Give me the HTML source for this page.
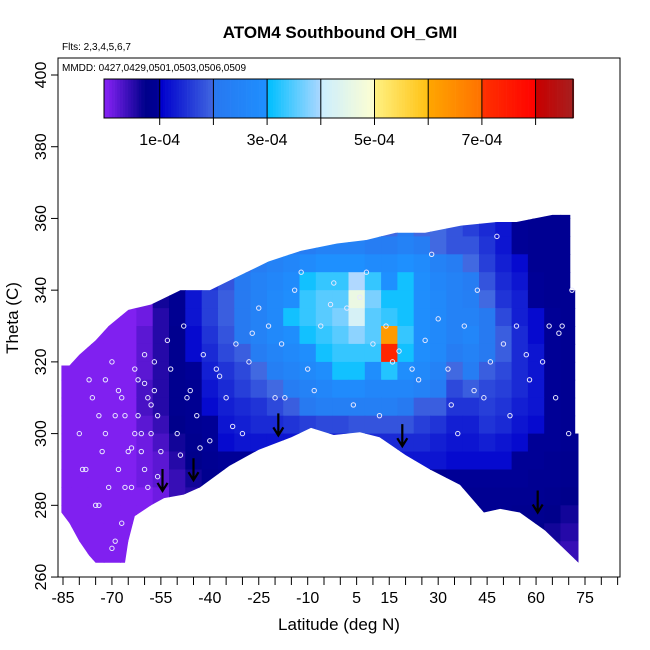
<!DOCTYPE html>
<html><head><meta charset="utf-8">
<style>
html,body{margin:0;padding:0;background:#fff;}
svg{display:block;font-family:"Liberation Sans",sans-serif;}
</style></head>
<body>
<svg id="chart" width="650" height="650" viewBox="0 0 650 650">
<text x="340" y="38" text-anchor="middle" font-size="17" font-weight="bold">ATOM4 Southbound OH_GMI</text>
<text x="62" y="50" font-size="10">Flts: 2,3,4,5,6,7</text>
<defs><clipPath id="dataClip"><path id="clipPath" d=""/></clipPath></defs>
<g id="cells" clip-path="url(#dataClip)"></g>
<g id="points"></g>
<g id="arrows"></g>
<rect x="58" y="58" width="562" height="519" fill="none" stroke="#000" stroke-width="1"/>
<text x="62" y="71" font-size="10">MMDD: 0427,0429,0501,0503,0506,0509</text>
<g id="colorbar"></g>
<g id="xaxis"></g>
<g id="yaxis"></g>
<text x="339" y="630" text-anchor="middle" font-size="17">Latitude (deg N)</text>
<text transform="translate(18,318) rotate(-90)" text-anchor="middle" font-size="17">Theta (C)</text>
</svg>
<script>
// ---- data ----
const latCenters = [-85,-80,-75,-70,-65,-60,-55,-50,-45,-40,-35,-30,-25,-20,-15,-10,-5,0,5,10,15,20,25,30,35,40,45,50,55,60,65,70,75];
const thetaBands = [360,355,350,345,340,335,330,325,320,315,310,305,300,295,290,285,280,275,270,265,260];
// OH values in units of 1e-5 (10 = 1e-4), rows follow thetaBands (band lower edge)
const ohGrid = [
[0,0,0,0,0,0,6,8,10,14,18,20,20,20,20,20,20,20,20,20,20,20,20,20,18,16,14,12,10,9,9,9,9],
[0,0,0,0,0,0,6,8,10,14,18,20,20,20,20,22,22,22,22,20,20,22,20,20,18,16,14,12,10,9,9,9,9],
[0,0,0,0,0,0,6,8,10,14,18,20,20,22,22,22,24,24,24,22,22,24,22,20,18,18,15,12,10,9,9,9,9],
[0,0,0,0,0,0,6,8,10,14,18,20,22,24,26,28,30,30,30,28,28,30,28,24,22,20,16,13,11,9,9,9,9],
[0,0,0,0,0,1,6,9,11,15,18,21,24,26,28,31,33,33,40,33,30,31,29,26,24,22,18,14,12,10,9,9,9],
[0,0,0,0,0,1,6,9,12,16,19,21,24,27,29,33,35,35,46,37,31,31,29,27,24,23,20,15,13,10,9,9,9],
[0,0,0,0,0,1,5,9,12,16,19,21,24,27,31,33,35,37,42,35,33,31,29,27,24,24,21,17,13,11,10,9,9],
[0,0,0,0,0,2,5,8,11,15,18,21,24,27,29,31,33,35,38,35,62,33,29,27,24,26,21,19,14,11,10,9,9],
[0,0,0,0,0,2,5,8,11,14,17,19,22,25,27,29,31,33,33,33,72,31,29,27,22,24,21,19,14,12,10,9,9],
[0,0,0,0,0,2,5,8,10,13,15,17,20,23,25,27,29,31,31,29,32,29,27,24,20,22,19,17,14,12,10,9,9],
[0,0,0,0,0,3,5,8,9,12,14,16,18,20,22,24,26,28,28,26,26,26,24,22,17,19,17,16,14,12,10,9,9],
[0,0,0,0,0,3,5,8,9,11,13,14,15,17,19,21,23,23,23,23,23,21,19,19,15,15,16,15,13,12,10,9,9],
[0,0,0,0,0,2,4,7,9,10,12,13,14,14,15,16,17,17,18,18,18,18,16,15,13,13,15,14,12,11,10,9,9],
[0,0,0,0,0,1,3,6,8,10,11,12,12,12,12,12,12,12,12,14,14,14,14,13,12,12,13,12,11,10,10,9,9],
[0,0,0,0,0,1,2,5,7,9,10,10,10,10,10,10,10,10,10,10,12,12,12,12,11,11,11,11,10,10,9,8,8],
[0,0,0,0,0,1,2,4,6,8,9,9,9,9,9,9,9,9,9,9,9,9,9,9,10,10,10,10,10,9,9,8,8],
[0,0,0,0,0,0,1,4,5,7,8,8,9,9,9,9,9,9,9,9,9,9,9,9,9,9,9,9,9,9,8,7,7],
[0,0,0,0,0,0,1,3,5,7,8,8,8,8,8,8,8,8,8,8,8,8,8,8,9,9,9,9,8,8,7,6,6],
[0,0,0,0,0,0,0,3,5,7,8,8,8,8,8,8,8,8,8,8,8,8,8,8,8,8,8,8,8,7,6,5,5],
[0,0,0,0,0,0,0,2,4,6,7,7,7,7,7,7,7,7,7,7,7,7,7,7,7,7,7,7,7,6,5,4,4],
[0,0,0,0,0,0,0,2,4,6,7,7,7,7,7,7,7,7,7,7,7,7,7,7,7,7,7,7,7,6,5,4,4]
];
// data domain outline: top edge (west to east) then bottom edge (east to west)
const topLat   = [-85.5,-85.5,-83,-80,-75,-71,-65,-58,-49,-40,-31,-22,-12,-1,8,17,26,37,48,54,65,70.5,70.5,72,72,73];
const topTheta = [278,319,319,322,326,330,334.5,336,340,340,344,348,351,353,354,356,356,358,359,359,361,361,340,340,300,300];
const botLat   = [73,62.7,55,49,44,36.7,27.5,20,12,6,-2,-9,-15,-25,-34,-43,-48,-54,-58,-63,-65,-66,-75,-77,-80,-83,-85.5];
const botTheta = [264,273,278,279,278,285.7,290,294,299,300.4,299.6,301.6,299,295.5,291,285,283,282,280,277,270,264,264,266,270,275,278];
// observation points
const ptLat = [-80,-78,-76,-74,-72,-70,-69,-68,-67,-66,-64,-63,-62,-61,-60,-59,-58,-57,-56,-55,-77,-73,-71,-69,-67,-65,-63,-61,-59,-57,-75,-72,-70,-66,-62,-60,-58,-52,-50,-48,-46,-44,-42,-40,-38,-35,-32,-28,-25,-22,-18,-14,-10,-6,-2,2,6,10,14,18,22,26,30,34,38,42,46,50,54,58,62,66,70,-30,-20,-8,4,12,24,36,44,52,64,71,-12,8,28,48,68,-79,-74,-68,-64,-60,-56,-53,-49,-47,-43,-37,-33,-27,-17,-3,16,33,41,57,67];
const ptTheta = [300,290,310,280,300,320,270,290,310,305,285,300,315,295,290,310,300,320,305,295,315,295,285,305,275,295,318,300,285,312,280,315,268,285,305,322,308,318,300,330,312,305,322,298,318,310,325,320,335,330,325,340,318,330,342,335,338,325,330,323,318,326,332,308,330,340,320,325,330,315,320,310,300,300,310,312,308,305,315,300,310,305,330,340,345,345,350,355,330,290,305,312,296,314,288,326,294,310,296,316,302,328,310,336,320,318,312,322,328];
const arrowLat = [-54.5,-45,-19,19,60.5];
const arrowTheta = [284,287,299.5,296.5,278];
// color bar
const barTicks = [1,3,5,7];
const barLabels = ["1e-04","3e-04","5e-04","7e-04"];
const xTicks = [-85,-80,-75,-70,-65,-60,-55,-50,-45,-40,-35,-30,-25,-20,-15,-10,-5,0,5,10,15,20,25,30,35,40,45,50,55,60,65,70,75,80,85];
const xLabels = [-85,-70,-55,-40,-25,-10,5,15,30,45,60,75];
const yTicks = [260,280,300,320,340,360,380,400];

// ---- scales ----
const X = lat => 63 + (lat + 85) * 3.2625;
const Y = th => 75 + (400 - th) * 3.586;
const NS = "http://www.w3.org/2000/svg";
function mk(tag, attrs, parent){const e=document.createElementNS(NS,tag);for(const k in attrs)e.setAttribute(k,attrs[k]);parent.appendChild(e);return e;}
const stops = [[0,[128,32,240]],[0.7,[0,0,139]],[1,[0,0,150]],[1.0001,[0,0,205]],[2,[65,105,225]],[2.0001,[40,120,240]],[3,[30,144,255]],[3.0001,[0,191,255]],[4,[176,216,255]],[4.0001,[204,238,255]],[5,[255,255,208]],[5.0001,[255,240,128]],[6,[255,192,16]],[6.0001,[255,165,0]],[7,[255,112,0]],[7.0001,[255,48,0]],[8,[255,0,0]],[8.0001,[200,0,0]],[8.7,[165,32,32]]];
function col(v){
  if(v<=stops[0][0])return rgb(stops[0][1]);
  for(let i=1;i<stops.length;i++){if(v<=stops[i][0]){const a=stops[i-1],b=stops[i];const t=(v-a[0])/(b[0]-a[0]);return rgb(a[1].map((c,j)=>c+(b[1][j]-c)*t));}}
  return rgb(stops[stops.length-1][1]);
}
function rgb(c){return "rgb("+c.map(Math.round).join(",")+")";}

// clip path
let d="";
topLat.forEach((l,i)=>{d+=(i?"L":"M")+X(l).toFixed(1)+","+Y(topTheta[i]).toFixed(1);});
botLat.forEach((l,i)=>{d+="L"+X(l).toFixed(1)+","+Y(botTheta[i]).toFixed(1);});
document.getElementById("clipPath").setAttribute("d",d+"Z");

// cells
const cg=document.getElementById("cells");
thetaBands.forEach((th,r)=>{
  latCenters.forEach((lat,c)=>{
    const x0=X(lat-2.5),x1=X(lat+2.5),y0=Y(th+5),y1=Y(th);
    const e=mk("rect",{x:x0.toFixed(1),y:y0.toFixed(1),width:(x1-x0+0.6).toFixed(1),height:(y1-y0+0.6).toFixed(1),fill:col(ohGrid[r][c]/10)},cg);
    
    
  });
});
// points
const pg=document.getElementById("points");
ptLat.forEach((l,i)=>{
  const e=mk("circle",{cx:X(l),cy:Y(ptTheta[i]),r:2.2,fill:"none",stroke:"#e8e8ff","stroke-width":1},pg);
  
  
});
// arrows
const ag=document.getElementById("arrows");
arrowLat.forEach((l,i)=>{
  const x=X(l),y=Y(arrowTheta[i]);
  const e=mk("path",{d:`M${x},${y-22}L${x},${y}M${x-5},${y-8}L${x},${y}L${x+5},${y-8}`,stroke:"#000","stroke-width":2.2,fill:"none"},ag);
  
  
});
// colorbar
const cb=document.getElementById("colorbar");
const BX=v=>106+v*53.7;
for(let v=-0.04;v<8.7;v+=0.05){
  const e=mk("rect",{x:BX(v).toFixed(2),y:79,width:3,height:39,fill:col(v)},cb);
  
  
}
mk("rect",{x:104,y:79,width:469,height:39,fill:"none",stroke:"#000","stroke-width":1},cb);
for(let k=1;k<=8;k++){
  mk("line",{x1:BX(k),x2:BX(k),y1:79,y2:125,stroke:"#000","stroke-width":1},cb);
}
barTicks.forEach((t,i)=>{
  const e=mk("text",{x:BX(t),y:145,"text-anchor":"middle","font-size":16},cb);
  e.textContent=barLabels[i];
  
  
});
// x axis
const xg=document.getElementById("xaxis");
xTicks.forEach(t=>{mk("line",{x1:X(t),x2:X(t),y1:577,y2:585,stroke:"#000"},xg);});
xLabels.forEach(t=>{
  const e=mk("text",{x:X(t),y:603,"text-anchor":"middle","font-size":16},xg);
  e.textContent=t;
  
  
});
// y axis
const yg=document.getElementById("yaxis");
yTicks.forEach(t=>{
  mk("line",{x1:51,x2:58,y1:Y(t),y2:Y(t),stroke:"#000"},yg);
  const e=mk("text",{transform:`translate(46,${Y(t)}) rotate(-90)`,"text-anchor":"middle","font-size":16},yg);
  e.textContent=t;
  
  
});
</script>
</body></html>
